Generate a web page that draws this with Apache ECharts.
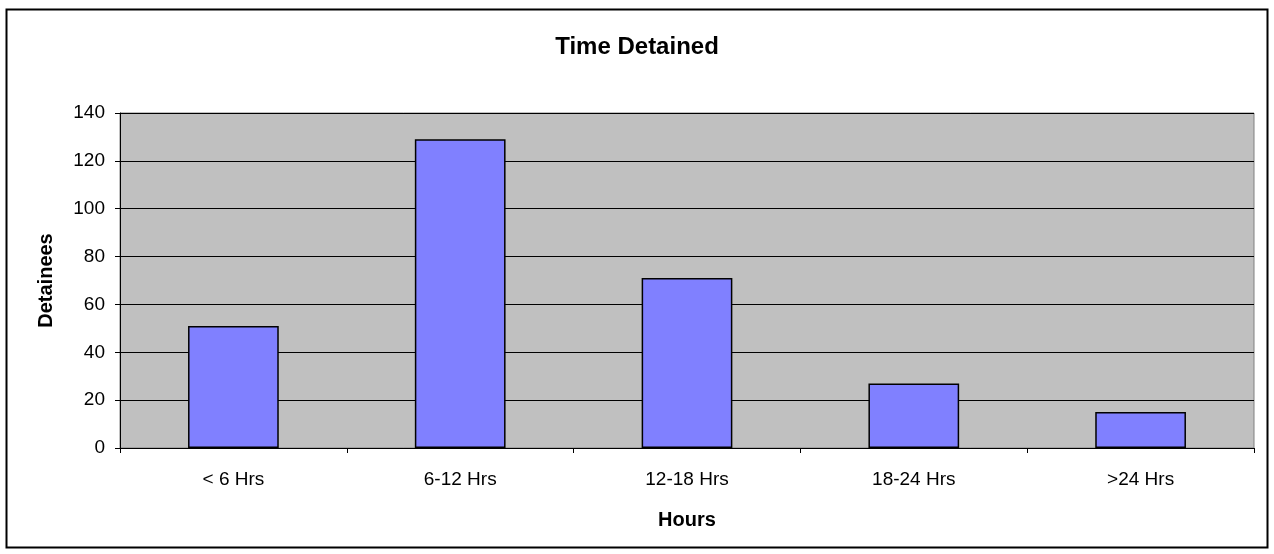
<!DOCTYPE html>
<html>
<head>
<meta charset="utf-8">
<script src="https://cdn.jsdelivr.net/npm/echarts@6/dist/echarts.min.js"></script>
<style>
html,body{margin:0;padding:0;background:#fff;}
#chart{width:1274px;height:554px;}
</style>
</head>
<body>
<div id="chart"></div>
<script>
const categories = ['< 6 Hrs', '6-12 Hrs', '12-18 Hrs', '18-24 Hrs', '>24 Hrs'];
const detainees = [51, 129, 71, 27, 15];
const yTicks = [0, 20, 40, 60, 80, 100, 120, 140];

const chart = echarts.init(document.getElementById('chart'));
const font = 'Liberation Sans, Arial, sans-serif';
chart.setOption({
  animation: false,
  backgroundColor: '#ffffff',
  title: {
    text: 'Time Detained',
    left: 'center',
    top: 30,
    textStyle: { fontFamily: font, fontSize: 24, fontWeight: 'bold', color: '#000' }
  },
  graphic: [{
    type: 'rect',
    shape: { x: 6.5, y: 9.5, width: 1261, height: 538 },
    style: { fill: 'none', stroke: '#000', lineWidth: 2 },
    silent: true
  }],
  grid: {
    left: 120, right: 20, top: 113, bottom: 106,
    show: true, backgroundColor: '#C0C0C0', borderColor: '#808080', borderWidth: 1
  },
  xAxis: {
    type: 'category',
    data: categories,
    name: 'Hours',
    nameLocation: 'middle',
    nameGap: 62,
    nameTextStyle: { fontFamily: font, fontSize: 20, fontWeight: 'bold', color: '#000' },
    axisLine: { lineStyle: { color: '#000', width: 1 } },
    axisTick: { show: true, length: 5, inside: false, lineStyle: { color: '#000' } },
    axisLabel: { fontFamily: font, fontSize: 19, color: '#000', margin: 22 },
    splitLine: { show: false }
  },
  yAxis: {
    type: 'value',
    min: yTicks[0],
    max: yTicks[yTicks.length - 1],
    interval: 20,
    name: 'Detainees',
    nameLocation: 'middle',
    nameGap: 64,
    nameRotate: 90,
    nameTextStyle: { fontFamily: font, fontSize: 20, fontWeight: 'bold', color: '#000' },
    axisLine: { show: true, lineStyle: { color: '#000', width: 1 } },
    axisTick: { show: true, length: 5, lineStyle: { color: '#000' } },
    axisLabel: { fontFamily: font, fontSize: 19, color: '#000', margin: 15 },
    splitLine: { show: true, lineStyle: { color: '#000', width: 1.2 } }
  },
  series: [{
    type: 'bar',
    data: detainees,
    barCategoryGap: '60%',
    itemStyle: { color: '#8080FF', borderColor: '#000', borderWidth: 1.5 }
  }]
});
</script>
</body>
</html>
